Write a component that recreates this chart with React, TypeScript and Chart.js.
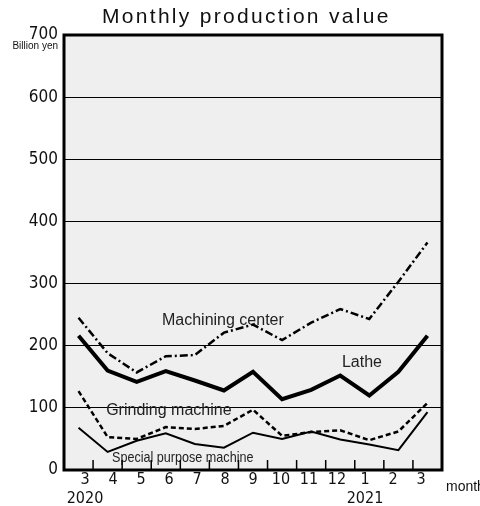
import React, { useEffect, useRef } from "react";
import { Chart, registerables } from "chart.js";

Chart.register(...registerables);

const months = ["3", "4", "5", "6", "7", "8", "9", "10", "11", "12", "1", "2", "3"];
const tickLabels: (string | string[])[] = [["3", "2020"], "4", "5", "6", "7", "8", "9", "10", "11", "12", ["1", "2021"], "2", "3"];
const machiningCenter = [245, 188, 157, 183, 185, 221, 234, 209, 237, 259, 243, 303, 366];
const lathe = [216, 160, 142, 159, 144, 128, 158, 114, 129, 152, 120, 158, 216];
const grindingMachine = [127, 53, 50, 69, 66, 71, 97, 55, 61, 64, 48, 62, 108];
const specialPurpose = [68, 29, 47, 59, 42, 36, 60, 50, 62, 49, 41, 32, 93];
const yTicks = [0, 100, 200, 300, 400, 500, 600, 700];

const annotations = [
  { text: "Machining center", x: 2.87, y: 241, size: 16, squeeze: 1 },
  { text: "Lathe", x: 9.06, y: 173, size: 16, squeeze: 1 },
  { text: "Grinding machine", x: 0.95, y: 95, size: 16, squeeze: 1 },
  { text: "Special purpose machine", x: 1.15, y: 19, size: 15, squeeze: 0.84 },
];

const SANS = "'Liberation Sans', Arial, Helvetica, sans-serif";
const NARROW = "'Liberation Sans Narrow', 'Arial Narrow', 'DejaVu Sans Condensed', 'Liberation Sans', sans-serif";

export default function App() {
  const ref = useRef<HTMLCanvasElement | null>(null);
  useEffect(() => {
    if (!ref.current) return;
    const bgPlugin = {
      id: "bg",
      beforeDraw(chart: any) {
        const { ctx, chartArea: a } = chart;
        ctx.save();
        ctx.fillStyle = "#efefef";
        ctx.fillRect(a.left, a.top, a.right - a.left, a.bottom - a.top);
        ctx.restore();
      },
    };
    const notePlugin = {
      id: "notes",
      beforeDatasetsDraw(chart: any) {
        const { ctx } = chart;
        const xs = chart.scales.x;
        const ys = chart.scales.y;
        ctx.save();
        ctx.fillStyle = "#222";
        ctx.textAlign = "left";
        ctx.textBaseline = "middle";
        for (const n of annotations) {
          const px = xs.getPixelForValue(n.x);
          const py = ys.getPixelForValue(n.y);
          ctx.save();
          ctx.translate(px, py);
          ctx.scale(n.squeeze, 1);
          ctx.font = `${n.size}px ${SANS}`;
          ctx.fillText(n.text, 0, 0);
          ctx.restore();
        }
        ctx.restore();
      },
    };
    const framePlugin = {
      id: "frame",
      afterDatasetsDraw(chart: any) {
        const { ctx, chartArea: a } = chart;
        const xs = chart.scales.x;
        ctx.save();
        ctx.strokeStyle = "#000";
        ctx.lineWidth = 1.5;
        ctx.beginPath();
        for (let i = 0; i < months.length - 1; i++) {
          const px = (xs.getPixelForValue(i) + xs.getPixelForValue(i + 1)) / 2;
          ctx.moveTo(px, a.bottom - 10);
          ctx.lineTo(px, a.bottom);
        }
        ctx.stroke();
        ctx.lineWidth = 3;
        ctx.strokeRect(a.left, a.top, a.right - a.left, a.bottom - a.top);
        ctx.restore();
      },
      afterDraw(chart: any) {
        const { ctx, chartArea: a } = chart;
        ctx.save();
        ctx.fillStyle = "#111";
        ctx.textBaseline = "alphabetic";
        ctx.textAlign = "left";
        ctx.font = `21px ${SANS}`;
        (ctx as any).letterSpacing = "2.3px";
        ctx.fillText("Monthly production value", 102, 23);
        (ctx as any).letterSpacing = "0px";
        ctx.font = `10px ${SANS}`;
        ctx.textAlign = "right";
        ctx.textBaseline = "middle";
        ctx.fillText("Billion yen", a.left - 6, a.top + 11);
        ctx.textAlign = "left";
        ctx.font = `14px ${SANS}`;
        ctx.textBaseline = "alphabetic";
        ctx.fillText("month", a.right + 4, 491);
        ctx.restore();
      },
    };
    const chart = new Chart(ref.current, {
      type: "line",
      data: {
        labels: months,
        datasets: [
          {
            label: "Machining center",
            data: machiningCenter,
            borderColor: "#000",
            borderWidth: 2.5,
            borderDash: [8, 3, 2, 3],
            pointRadius: 0,
            tension: 0,
          },
          {
            label: "Lathe",
            data: lathe,
            borderColor: "#000",
            borderWidth: 4,
            borderJoinStyle: "miter",
            pointRadius: 0,
            tension: 0,
          },
          {
            label: "Grinding machine",
            data: grindingMachine,
            borderColor: "#000",
            borderWidth: 2.5,
            borderDash: [5, 3],
            pointRadius: 0,
            tension: 0,
          },
          {
            label: "Special purpose machine",
            data: specialPurpose,
            borderColor: "#000",
            borderWidth: 2,
            pointRadius: 0,
            tension: 0,
          },
        ],
      },
      options: {
        animation: false,
        responsive: true,
        maintainAspectRatio: false,
        layout: { padding: { top: 35, right: 38, left: 0, bottom: 0 } },
        plugins: { legend: { display: false }, tooltip: { enabled: false }, title: { display: false } },
        scales: {
          x: {
            type: "category",
            offset: true,
            display: false,
          },
          xl: {
            type: "linear",
            position: "bottom",
            min: -0.75,
            max: 12.75,
            grid: { display: false, drawTicks: false },
            border: { display: false },
            afterBuildTicks(scale: any) {
              scale.ticks = tickLabels.map((_, i) => ({ value: i }));
            },
            afterFit(scale: any) {
              scale.height = 36;
            },
            ticks: {
              autoSkip: false,
              maxRotation: 0,
              padding: 1,
              color: "#111",
              font: { family: NARROW, size: 16, lineHeight: 1.15 },
              callback: (v: any) => tickLabels[Math.round(Number(v))] as any,
            },
          },
          y: {
            min: 0,
            max: 700,
            afterBuildTicks(scale: any) {
              scale.ticks = yTicks.map((v) => ({ value: v }));
            },
            afterFit(scale: any) {
              scale.width = 64;
            },
            grid: { color: "#000", lineWidth: 1, drawTicks: false },
            border: { display: false },
            ticks: {
              padding: 6,
              color: "#111",
              font: { family: NARROW, size: 17 },
            },
          },
        },
      },
      plugins: [bgPlugin, notePlugin, framePlugin],
    } as any);
    return () => chart.destroy();
  }, []);
  return (
    <div style={{ position: "absolute", left: 0, top: 0, width: 480, height: 506 }}>
      <canvas ref={ref} />
    </div>
  );
}
